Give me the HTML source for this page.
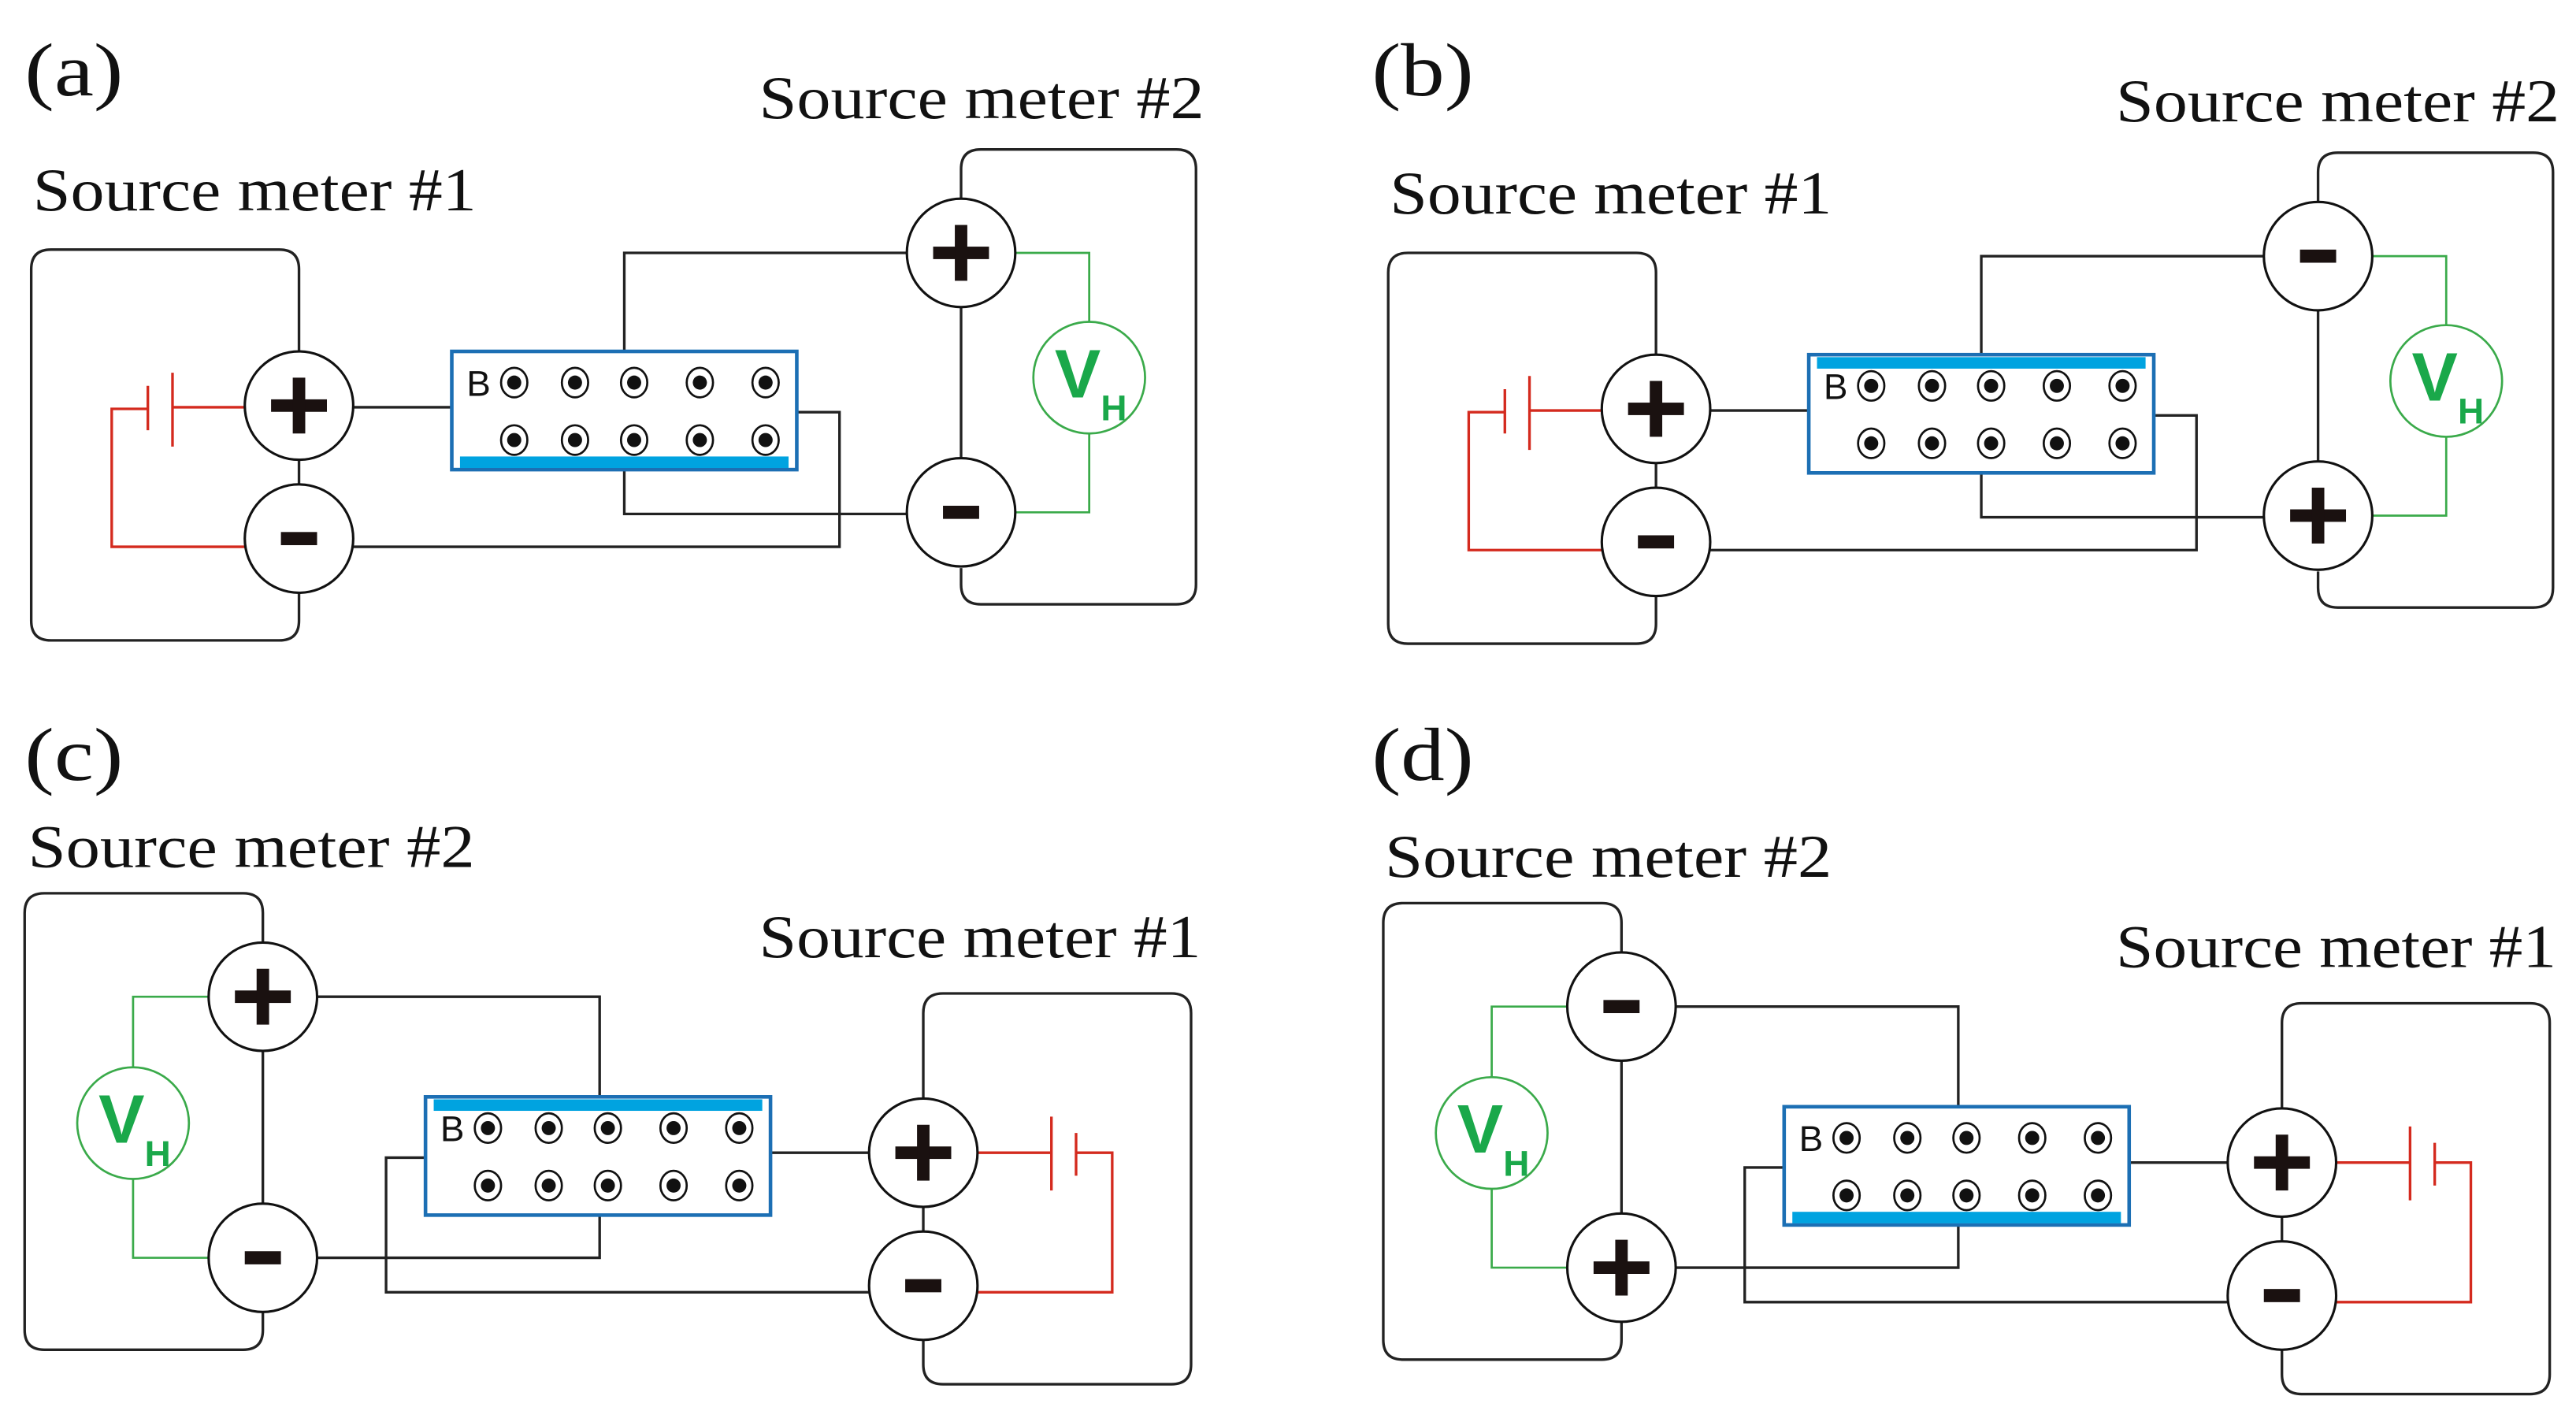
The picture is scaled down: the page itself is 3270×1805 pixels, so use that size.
<!DOCTYPE html>
<html><head><meta charset="utf-8"><style>
html,body{margin:0;padding:0;background:#fff;}
svg{display:block;}
.t{font-family:"Liberation Serif",serif;fill:#111;}
.w{fill:none;stroke:#222;stroke-width:1.6;}
.r{fill:none;stroke:#d42a1e;stroke-width:1.6;}
.g{fill:none;stroke:#3aaa4a;stroke-width:1.3;}
</style></head><body>
<svg width="3270" height="1805" viewBox="0 0 1568 866" preserveAspectRatio="none" xmlns="http://www.w3.org/2000/svg">
<defs>
<g id="plus"><circle r="33" fill="#fff" stroke="#111" stroke-width="1.5"/><rect x="-17" y="-3.8" width="34" height="7.6" fill="#1a1110"/><rect x="-3.8" y="-17" width="7.6" height="34" fill="#1a1110"/></g>
<g id="minus"><circle r="33" fill="#fff" stroke="#111" stroke-width="1.5"/><rect x="-11" y="-4" width="22" height="8" fill="#1a1110"/></g>
<g id="vh"><circle r="34" fill="#fff" stroke="#3aaa4a" stroke-width="1.3"/><text x="-7" y="12" font-family="Liberation Sans,sans-serif" font-size="42" font-weight="bold" fill="#1aa84a" text-anchor="middle">V</text><text x="15" y="26" font-family="Liberation Sans,sans-serif" font-size="22" font-weight="bold" fill="#1aa84a" text-anchor="middle">H</text></g>
<g id="dot"><ellipse rx="8" ry="9" fill="#fff" stroke="#111" stroke-width="1.3"/><circle r="4.3" fill="#111"/></g>
<g id="dev"><rect x="0" y="0" width="210" height="72" fill="#fff" stroke="#1c6fb4" stroke-width="2.2"/>
<text x="9" y="27" font-family="Liberation Sans,sans-serif" font-size="22" fill="#111">B</text>
<use href="#dot" x="38" y="19"/><use href="#dot" x="75" y="19"/><use href="#dot" x="111" y="19"/><use href="#dot" x="151" y="19"/><use href="#dot" x="191" y="19"/>
<use href="#dot" x="38" y="54"/><use href="#dot" x="75" y="54"/><use href="#dot" x="111" y="54"/><use href="#dot" x="151" y="54"/><use href="#dot" x="191" y="54"/></g>
<rect id="barB" x="5" y="64" width="200" height="7" fill="#00a3e0"/>
<rect id="barT" x="5" y="1.5" width="200" height="7" fill="#00a3e0"/>
</defs>

<g id="pa">
<path class="w" d="M182,214 V164 Q182,152 170,152 H31 Q19,152 19,164 V378 Q19,390 31,390 H170 Q182,390 182,378 V361"/>
<line class="w" x1="182" y1="280" x2="182" y2="295"/>
<path class="r" d="M149,248 H105 M105,227 V272 M90,235 V262 M90,249 H68 V333 H149"/>
<line class="w" x1="215" y1="248" x2="275" y2="248"/>
<path class="w" d="M380,214 V154 H552"/>
<path class="w" d="M380,286 V313 H552"/>
<path class="w" d="M485,251 H511 V333 H215"/>
<path class="w" d="M585,121 V103 Q585,91 597,91 H716 Q728,91 728,103 V356 Q728,368 716,368 H597 Q585,368 585,356 V346"/>
<line class="w" x1="585" y1="187" x2="585" y2="280"/>
<path class="g" d="M618,154 H663 V196 M663,264 V312 H618"/>
<use href="#vh" x="663" y="230"/>
<use href="#dev" x="275" y="214"/>
</g>
<use href="#barB" x="275" y="214"/>
<use href="#plus" x="182" y="247"/><use href="#minus" x="182" y="328"/>
<use href="#plus" x="585" y="154"/><use href="#minus" x="585" y="312"/>
<text class="t" x="15" y="58" font-size="46" textLength="60" lengthAdjust="spacingAndGlyphs">(a)</text>
<text class="t" x="462" y="72" font-size="37" textLength="271" lengthAdjust="spacingAndGlyphs">Source meter #2</text>
<text class="t" x="20" y="128" font-size="37" textLength="270" lengthAdjust="spacingAndGlyphs">Source meter #1</text>

<g transform="translate(826,2)">
<use href="#pa"/>
<use href="#barT" x="275" y="214"/>
<use href="#plus" x="182" y="247"/><use href="#minus" x="182" y="328"/>
<use href="#minus" x="585" y="154"/><use href="#plus" x="585" y="312"/>
</g>
<text class="t" x="835" y="58" font-size="46" textLength="62" lengthAdjust="spacingAndGlyphs">(b)</text>
<text class="t" x="1288" y="74" font-size="37" textLength="270" lengthAdjust="spacingAndGlyphs">Source meter #2</text>
<text class="t" x="846" y="130" font-size="37" textLength="269" lengthAdjust="spacingAndGlyphs">Source meter #1</text>

<g id="pc">
<path class="w" d="M160,574 V556 Q160,544 148,544 H27 Q15,544 15,556 V810 Q15,822 27,822 H148 Q160,822 160,810 V799"/>
<line class="w" x1="160" y1="640" x2="160" y2="733"/>
<path class="g" d="M127,607 H81 V650 M81,718 V766 H127"/>
<use href="#vh" x="81" y="684"/>
<path class="w" d="M193,607 H365 V668"/>
<path class="w" d="M193,766 H365 V740"/>
<path class="w" d="M259,705 H235 V787 H529"/>
<line class="w" x1="469" y1="702" x2="529" y2="702"/>
<path class="w" d="M562,669 V617 Q562,605 574,605 H713 Q725,605 725,617 V831 Q725,843 713,843 H574 Q562,843 562,831 V816"/>
<line class="w" x1="562" y1="735" x2="562" y2="750"/>
<path class="r" d="M595,702 H640 M640,680 V725 M655,690 V716 M655,702 H677 V787 H595"/>
<use href="#dev" x="259" y="668"/>
</g>
<use href="#barT" x="259" y="668"/>
<use href="#plus" x="160" y="607"/><use href="#minus" x="160" y="766"/>
<use href="#plus" x="562" y="702"/><use href="#minus" x="562" y="783"/>
<text class="t" x="15" y="475" font-size="46" textLength="60" lengthAdjust="spacingAndGlyphs">(c)</text>
<text class="t" x="17" y="528" font-size="37" textLength="272" lengthAdjust="spacingAndGlyphs">Source meter #2</text>
<text class="t" x="462" y="583" font-size="37" textLength="269" lengthAdjust="spacingAndGlyphs">Source meter #1</text>

<g transform="translate(827,6)">
<use href="#pc"/>
<use href="#barB" x="259" y="668"/>
<use href="#minus" x="160" y="607"/><use href="#plus" x="160" y="766"/>
<use href="#plus" x="562" y="702"/><use href="#minus" x="562" y="783"/>
</g>
<text class="t" x="835" y="475" font-size="46" textLength="62" lengthAdjust="spacingAndGlyphs">(d)</text>
<text class="t" x="843" y="534" font-size="37" textLength="272" lengthAdjust="spacingAndGlyphs">Source meter #2</text>
<text class="t" x="1288" y="589" font-size="37" textLength="268" lengthAdjust="spacingAndGlyphs">Source meter #1</text>
</svg>
</body></html>
